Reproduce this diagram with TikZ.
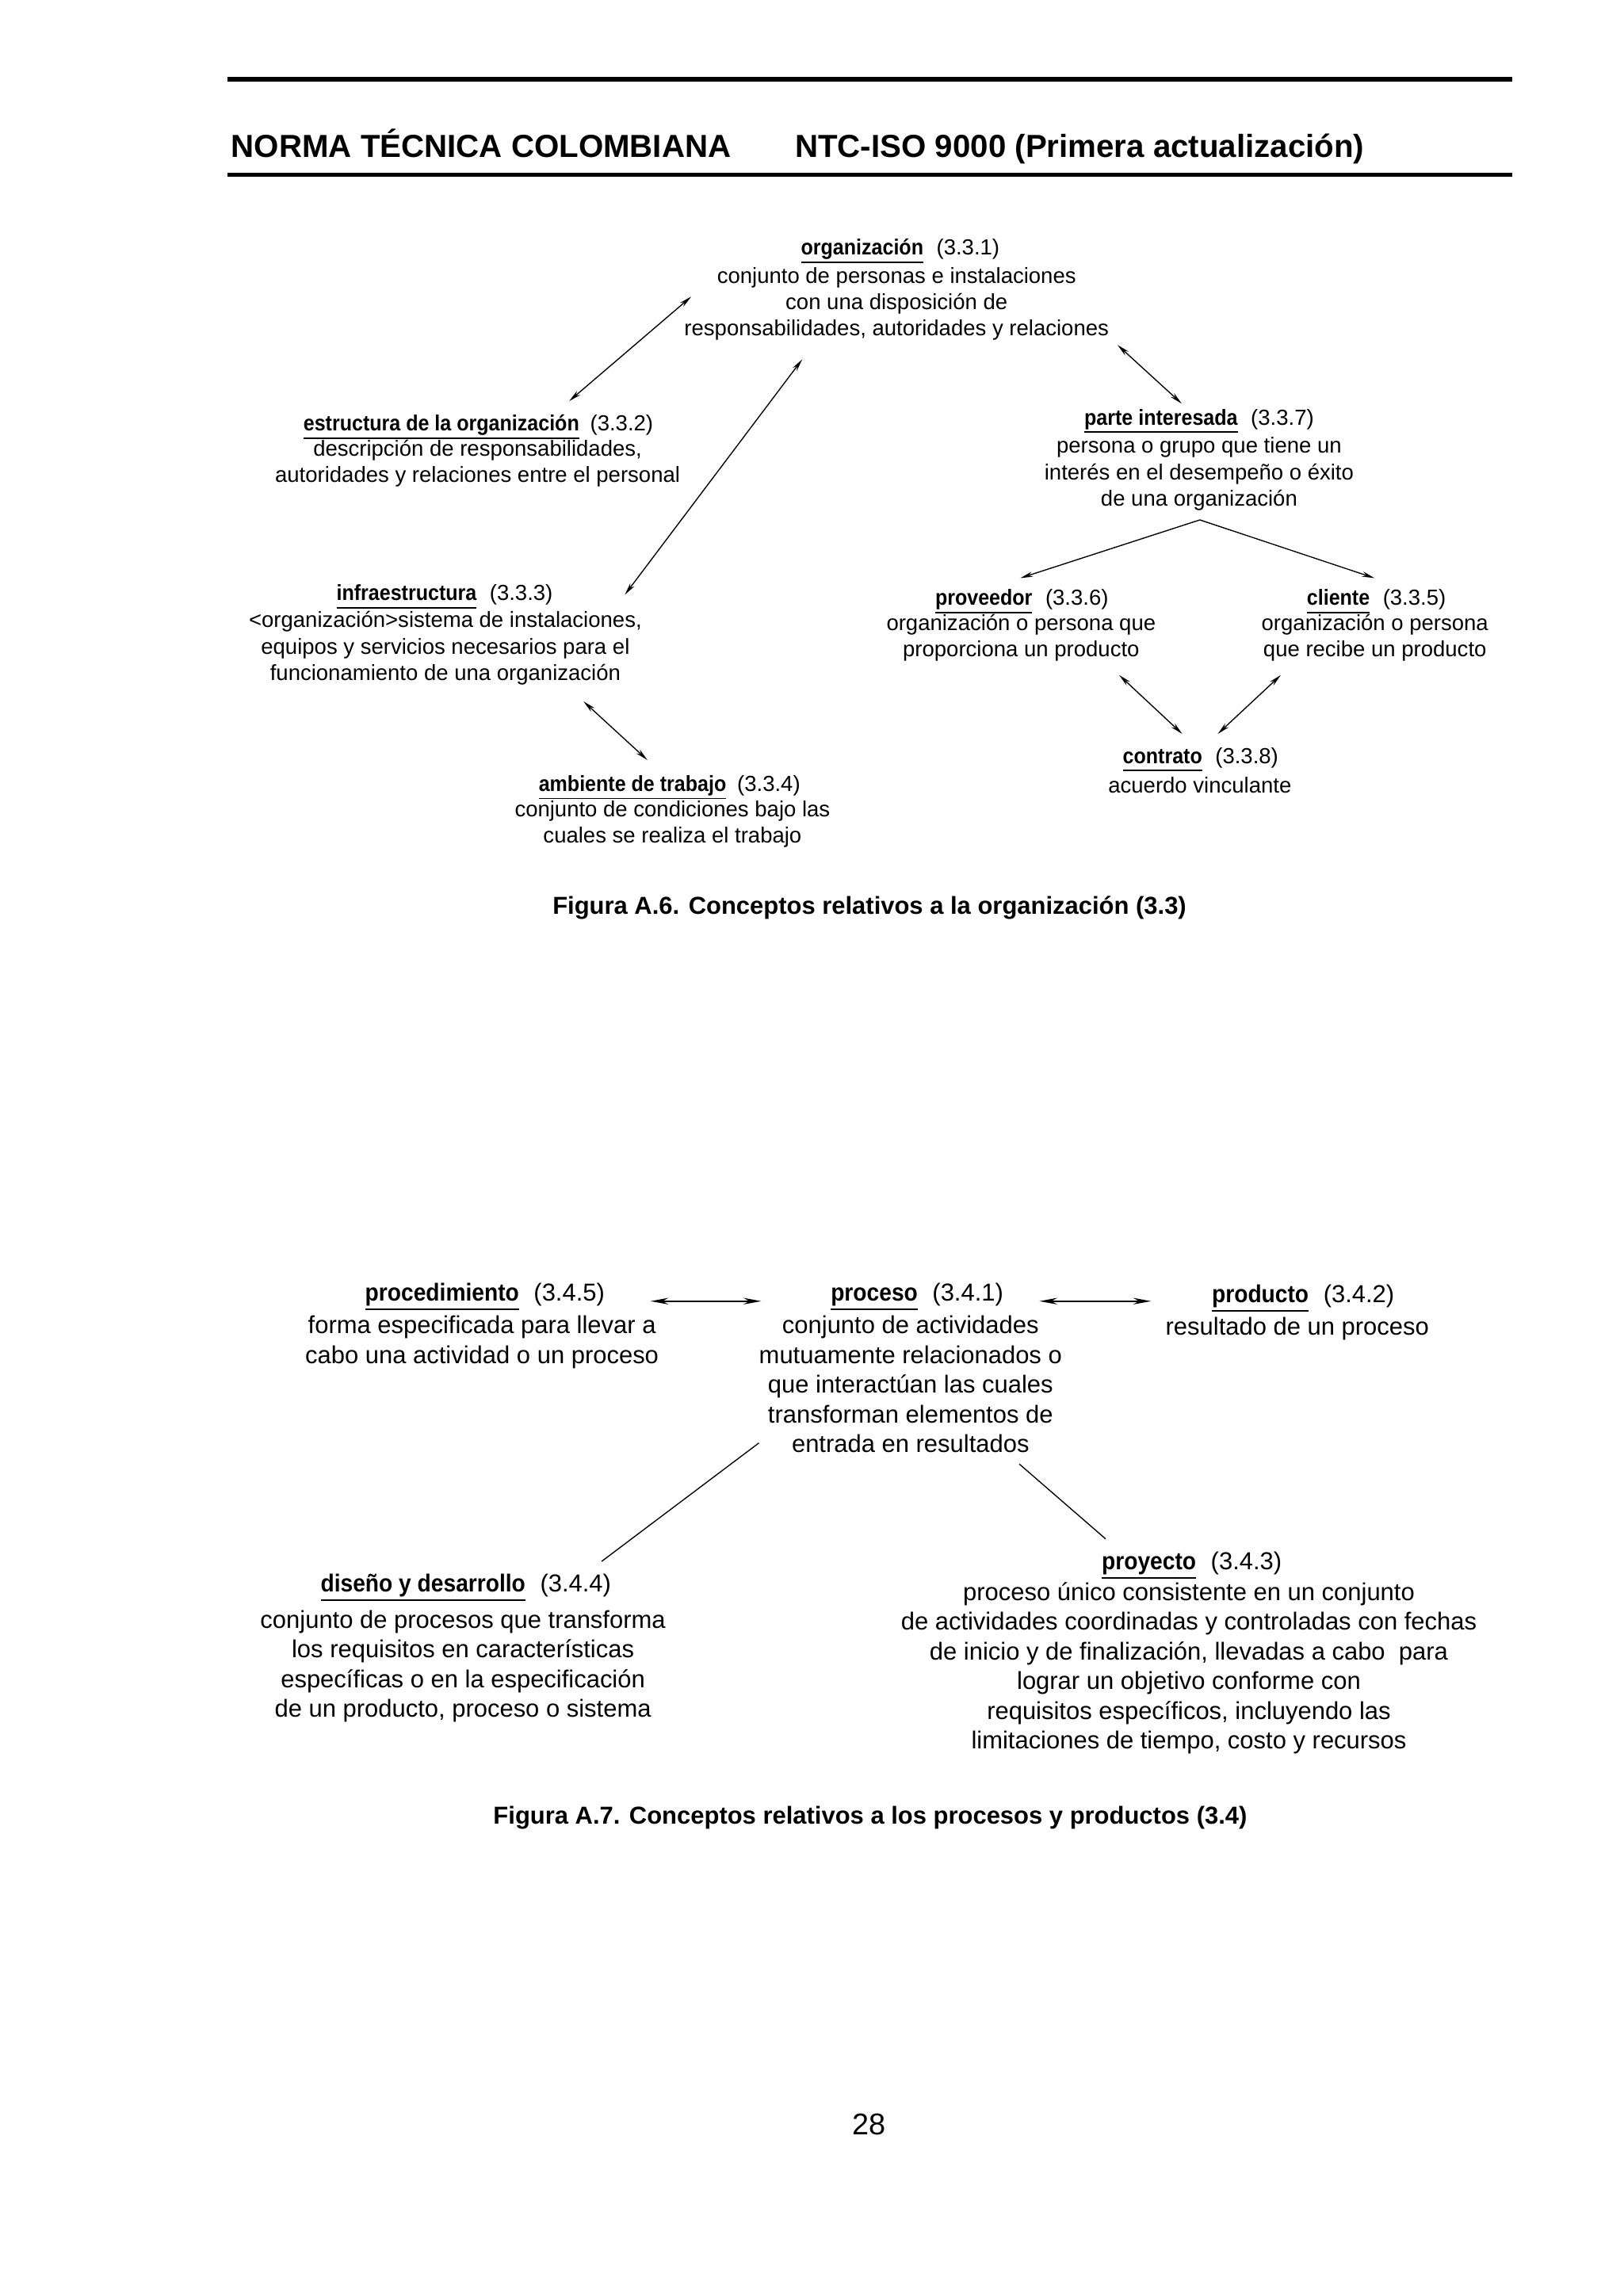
\documentclass[tikz,border=0pt]{standalone}
\usepackage{fontspec}
\usepackage{graphicx}
\setmainfont{Liberation Sans}
\usetikzlibrary{arrows.meta}
\newcommand\term[1]{\setbox0\hbox{\scalebox{0.91}[1]{\bfseries #1}}\rlap{\rule[-0.37em]{\wd0}{0.5pt}}\box0}
\newcommand\strA{\rule{0pt}{6.4pt}}
\newcommand\strB{\rule{0pt}{7.2pt}}
\begin{document}
\begin{tikzpicture}[x=0.53726pt,y=-0.53726pt,
  hdr/.style={anchor=base west, inner sep=0pt, font=\fontsize{11.7}{14}\selectfont\bfseries},
  figcap/.style={anchor=base, inner sep=0pt, font=\fontsize{9}{11}\selectfont\bfseries},
  t6/.style={anchor=base, inner sep=0pt, font=\fontsize{8}{9.67}\selectfont},
  d6/.style={anchor=north, align=center, inner sep=0pt, yshift=6.4pt, font=\fontsize{8}{9.67}\selectfont},
  t7/.style={anchor=base, inner sep=0pt, font=\fontsize{9}{10.9}\selectfont},
  d7/.style={anchor=north, align=center, inner sep=0pt, yshift=7.2pt, font=\fontsize{9}{10.9}\selectfont},
  hrule/.style={line width=1.55pt},
  a6/.style={line width=0.4pt, {Stealth[length=4.6pt,width=1.9pt]}-{Stealth[length=4.6pt,width=1.9pt]}},
  s6/.style={line width=0.4pt, -{Stealth[length=4.6pt,width=1.9pt]}},
  a7/.style={line width=0.55pt, {Stealth[length=6.5pt,width=2.4pt]}-{Stealth[length=6.5pt,width=2.4pt]}},
  l7/.style={line width=0.4pt}]
\useasboundingbox (0,0) rectangle (1108,1567.3);
\fill[white] (0,0) rectangle (1108,1567.3);

% header
\coordinate (r1a) at (155.3,54.1); \coordinate (r1b) at (1032.3,54.1);
\coordinate (r2a) at (155.3,119.4); \coordinate (r2b) at (1032.3,119.4);
\draw[hrule] (r1a) -- (r1b);
\draw[hrule] (r2a) -- (r2b);
\node[hdr] (hd1) at (157.5,107.3) {NORMA TÉCNICA COLOMBIANA};
\node[hdr] (hd2) at (542.4,107.3) {NTC-ISO 9000 (Primera actualización)};

% ---------- Figura A.6 ----------
\node[t6] (org) at (614.5,174) {\term{organización}\hspace{0.6em}(3.3.1)};
\node[d6] (orgd) at (612,193) {\strA conjunto de personas e instalaciones\\con una disposición de\\responsabilidades, autoridades y relaciones};

\node[t6] (est) at (326.5,294) {\term{estructura de la organización}\hspace{0.5em}(3.3.2)};
\node[d6] (estd) at (326,311) {\strA descripción de responsabilidades,\\autoridades y relaciones entre el personal};

\node[t6] (par) at (818.5,290) {\term{parte interesada}\hspace{0.6em}(3.3.7)};
\node[d6] (pard) at (818.5,309) {\strA persona o grupo que tiene un\\interés en el desempeño o éxito\\de una organización};

\node[t6] (inf) at (303.5,410) {\term{infraestructura}\hspace{0.6em}(3.3.3)};
\node[d6] (infd) at (304,428) {\strA \textless organización\textgreater sistema de instalaciones,\\equipos y servicios necesarios para el\\funcionamiento de una organización};

\node[t6] (prv) at (697.5,413) {\term{proveedor}\hspace{0.6em}(3.3.6)};
\node[d6] (prvd) at (697,430) {\strA organización o persona que\\proporciona un producto};

\node[t6] (cli) at (939.5,413) {\term{cliente}\hspace{0.6em}(3.3.5)};
\node[d6] (clid) at (938.5,430) {\strA organización o persona\\que recibe un producto};

\node[t6] (amb) at (457,540) {\term{ambiente de trabajo}\hspace{0.5em}(3.3.4)};
\node[d6] (ambd) at (459,557) {\strA conjunto de condiciones bajo las\\cuales se realiza el trabajo};

\node[t6] (con) at (819.5,521) {\term{contrato}\hspace{0.6em}(3.3.8)};
\node[d6] (cond) at (819,541) {\strA acuerdo vinculante};

% connector end points
\coordinate (orgE) at (471.8,202.5);  \coordinate (estO) at (388.5,273.8);
\coordinate (orgI) at (547.6,245.3);  \coordinate (infO) at (426.5,406);
\coordinate (orgP) at (762.8,235.5);  \coordinate (parO) at (806.6,275.5);
\coordinate (parX) at (819,354.9);
\coordinate (prvP) at (696.5,394.6);  \coordinate (cliP) at (938.2,394.6);
\coordinate (infA) at (398.3,478.8);  \coordinate (ambI) at (441.9,518.8);
\coordinate (prvC) at (763.9,460.8);  \coordinate (conP) at (807,501);
\coordinate (cliC) at (874.3,460.8);  \coordinate (conC) at (831.2,501);

\draw[a6] (orgE) -- (estO);
\draw[a6] (orgI) -- (infO);
\draw[a6] (orgP) -- (parO);
\draw[s6] (parX) -- (prvP);
\draw[s6] (parX) -- (cliP);
\draw[a6] (infA) -- (ambI);
\draw[a6] (prvC) -- (conP);
\draw[a6] (cliC) -- (conC);

\node[figcap] (cap6) at (593.5,624) {Figura A.6. Conceptos relativos a la organización (3.3)};

% ---------- Figura A.7 ----------
\node[t7] (pcd) at (331,888) {\term{procedimiento}\hspace{0.6em}(3.4.5)};
\node[d7] (pcdd) at (329,910) {\strB forma especificada para llevar a\\cabo una actividad o un proceso};

\node[t7] (pro) at (626,888) {\term{proceso}\hspace{0.6em}(3.4.1)};
\node[d7] (prod) at (621.5,910) {\strB conjunto de actividades\\mutuamente relacionados o\\que interactúan las cuales\\transforman elementos de\\entrada en resultados};

\node[t7] (pdt) at (889.5,889) {\term{producto}\hspace{0.6em}(3.4.2)};
\node[d7] (pdtd) at (885.5,911) {\strB resultado de un proceso};

\node[t7] (dis) at (318,1086.5) {\term{diseño y desarrollo}\hspace{0.6em}(3.4.4)};
\node[d7] (disd) at (316,1111) {\strB conjunto de procesos que transforma\\los requisitos en características\\específicas o en la especificación\\de un producto, proceso o sistema};

\node[t7] (pry) at (813.5,1071.5) {\term{proyecto}\hspace{0.6em}(3.4.3)};
\node[d7] (pryd) at (811.5,1092) {\strB proceso único consistente en un conjunto\\de actividades coordinadas y controladas con fechas\\de inicio y de finalización, llevadas a cabo\ \ para\\lograr un objetivo conforme con\\requisitos específicos, incluyendo las\\limitaciones de tiempo, costo y recursos};

\coordinate (pcdR) at (444.1,888.2); \coordinate (proL) at (519.6,888.2);
\coordinate (proR) at (709.5,888.2); \coordinate (pdtL) at (785.6,888.2);
\coordinate (proD) at (518,985);     \coordinate (disU) at (410.7,1065.8);
\coordinate (proY) at (695.8,999.4); \coordinate (pryU) at (754.7,1050.5);

\draw[a7] (pcdR) -- (proL);
\draw[a7] (proR) -- (pdtL);
\draw[l7] (proD) -- (disU);
\draw[l7] (proY) -- (pryU);

\node[figcap] (cap7) at (594,1245) {Figura A.7. Conceptos relativos a los procesos y productos (3.4)};

\node[anchor=base, inner sep=0pt, font=\fontsize{11}{13}\selectfont] (pg) at (593,1457) {28};
\end{tikzpicture}
\end{document}
